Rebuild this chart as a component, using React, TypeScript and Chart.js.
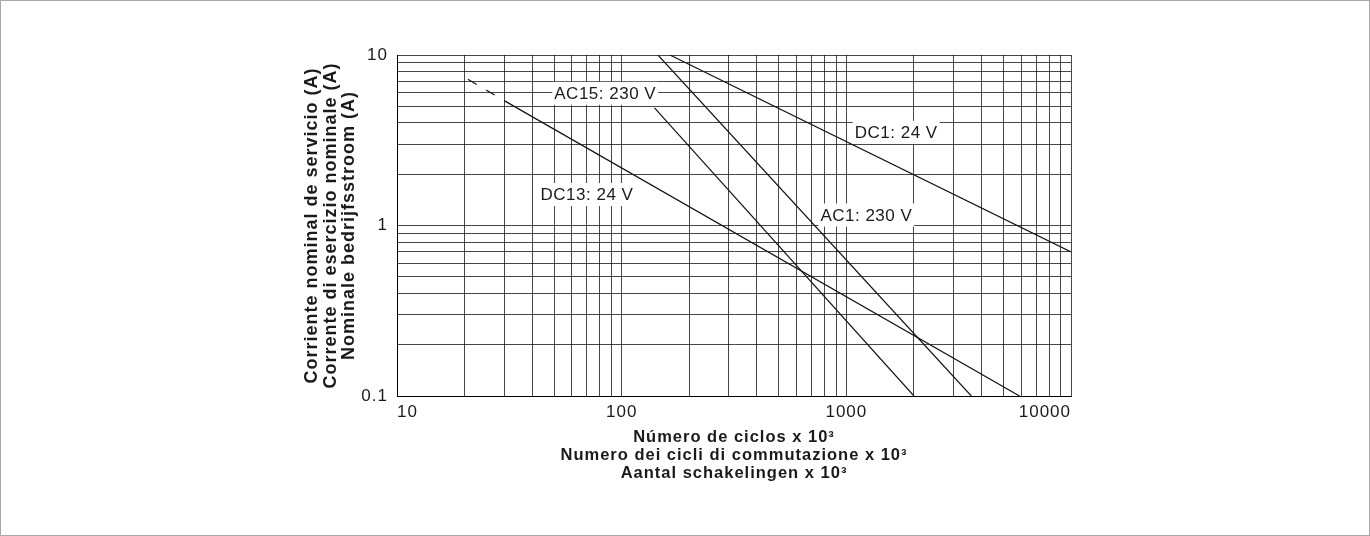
import { useEffect, useRef } from 'react';
import { Chart, registerables } from 'chart.js';

Chart.register(...registerables);

const FONT = '"Liberation Sans", Arial, Helvetica, sans-serif';
const TEXT = '#1a1a1a';
const GRID = 'rgba(0,0,0,0.72)';
const LINE = '#141414';

// Axis ticks (log grid)
const xTickValues = [
  10, 20, 30, 40, 50, 60, 70, 80, 90,
  100, 200, 300, 400, 500, 600, 700, 800, 900,
  1000, 2000, 3000, 4000, 5000, 6000, 7000, 8000, 9000,
  10000,
];
const xLabelValues = [10, 100, 1000, 10000];
const xLabelTexts = ['10', '100', '1000', '10000'];

const yTickValues = [
  0.1, 0.2, 0.3, 0.4, 0.5, 0.6, 0.7, 0.8, 0.9,
  1, 2, 3, 4, 5, 6, 7, 8, 9,
  10,
];
const yLabelValues = [0.1, 1, 10];
const yLabelTexts = ['0.1', '1', '10'];

// Axis titles
const xTitleLines = [
  'Número de ciclos x 10³',
  'Numero dei cicli di commutazione x 10³',
  'Aantal schakelingen x 10³',
];
const yTitleLines = [
  'Corriente nominal de servicio (A)',
  'Corrente di esercizio nominale (A)',
  'Nominale bedrijfsstroom (A)',
];

// Series (switching cycles x10^3 -> rated current A)
const dc13DashedX = [20.7, 30];
const dc13DashedY = [7.2, 5.4];
const dc13X = [30, 5900];
const dc13Y = [5.4, 0.1];
const ac15X = [140, 2000];
const ac15Y = [4.9, 0.1];
const ac1X = [145, 3600];
const ac1Y = [10, 0.1];
const dc1X = [164, 10000];
const dc1Y = [10, 0.7];

// Curve labels (text centre in data coordinates)
const labelTexts = ['AC15: 230 V', 'DC13: 24 V', 'DC1: 24 V', 'AC1: 230 V'];
const labelX = [84.5, 70.1, 1667, 1228];
const labelY = [6, 1.53, 3.54, 1.16];

const toPoints = (xs: number[], ys: number[]) => xs.map((x, i) => ({ x, y: ys[i] }));

const curveLabelPlugin = {
  id: 'curveLabels',
  beforeDraw(chart: any) {
    try {
      chart.ctx.letterSpacing = '1px';
    } catch (e) {
      /* ignore */
    }
  },
  afterDatasetsDraw(chart: any) {
    const { ctx, scales } = chart;
    const xs = scales.x;
    const ys = scales.y;
    ctx.save();
    try {
      ctx.letterSpacing = '0.5px';
    } catch (e) {
      /* ignore */
    }
    ctx.font = `17px ${FONT}`;
    ctx.textAlign = 'left';
    ctx.textBaseline = 'alphabetic';
    labelTexts.forEach((text, i) => {
      const cx = xs.getPixelForValue(labelX[i]);
      const cy = ys.getPixelForValue(labelY[i]);
      const w = ctx.measureText(text).width;
      const left = cx - w / 2;
      ctx.fillStyle = '#ffffff';
      ctx.fillRect(left - 2, cy - 11, w + 4, 23);
      ctx.fillStyle = TEXT;
      ctx.fillText(text, left, cy + 6);
    });
    ctx.restore();
  },
};

export default function App() {
  const canvasRef = useRef<HTMLCanvasElement | null>(null);

  useEffect(() => {
    const canvas = canvasRef.current;
    if (!canvas) return;

    const lineDs = (label: string, xs: number[], ys: number[], dash: number[] = []) => ({
      label,
      data: toPoints(xs, ys),
      borderColor: LINE,
      borderWidth: 1.2,
      borderDash: dash,
      pointRadius: 0,
      pointHoverRadius: 0,
      fill: false,
      tension: 0,
    });

    const chart = new Chart(canvas, {
      type: 'line',
      data: {
        datasets: [
          lineDs('DC13 dashed', dc13DashedX, dc13DashedY, [10, 11]),
          lineDs('DC13: 24 V', dc13X, dc13Y),
          lineDs('AC15: 230 V', ac15X, ac15Y),
          lineDs('AC1: 230 V', ac1X, ac1Y),
          lineDs('DC1: 24 V', dc1X, dc1Y),
        ],
      },
      options: {
        responsive: false,
        animation: false,
        events: [],
        layout: { padding: { left: 295, right: 291, top: 47, bottom: 46 } },
        plugins: {
          legend: { display: false },
          tooltip: { enabled: false },
        },
        scales: {
          x: {
            type: 'logarithmic',
            min: 10,
            max: 10000,
            afterBuildTicks: (s: any) => {
              s.ticks = xTickValues.map((v) => ({ value: v }));
            },
            afterFit: (s: any) => {
              s.height = 86;
            },
            grid: { color: GRID, lineWidth: 1, drawTicks: false },
            border: { color: '#000', width: 1 },
            ticks: {
              autoSkip: false,
              maxRotation: 0,
              minRotation: 0,
              align: 'inner',
              padding: 6,
              color: TEXT,
              font: { family: FONT, size: 17 },
              callback: (value: any) => {
                const i = xLabelValues.indexOf(Number(value));
                return i >= 0 ? xLabelTexts[i] : '';
              },
            },
            title: {
              display: true,
              text: xTitleLines,
              color: TEXT,
              padding: 0,
              font: { family: FONT, size: 16.5, weight: 'bold', lineHeight: '18px' },
            },
          },
          y: {
            type: 'logarithmic',
            min: 0.1,
            max: 10,
            afterBuildTicks: (s: any) => {
              s.ticks = yTickValues.map((v) => ({ value: v }));
            },
            afterFit: (s: any) => {
              s.width = 94;
            },
            grid: { color: GRID, lineWidth: 1, drawTicks: false },
            border: { color: '#000', width: 1 },
            ticks: {
              autoSkip: false,
              padding: 9,
              color: TEXT,
              font: { family: FONT, size: 17 },
              callback: (value: any) => {
                const i = yLabelValues.indexOf(Number(value));
                return i >= 0 ? yLabelTexts[i] : '';
              },
            },
            title: {
              display: true,
              text: yTitleLines,
              color: TEXT,
              padding: 0,
              font: { family: FONT, size: 18, weight: 'bold', lineHeight: '18.5px' },
            },
          },
        },
      } as any,
      plugins: [curveLabelPlugin],
    });

    return () => {
      chart.destroy();
    };
  }, []);

  return (
    <>
      <div
        style={{
          position: 'fixed',
          left: 0,
          top: 0,
          width: 1370,
          height: 536,
          boxSizing: 'border-box',
          border: '1px solid #a8a8a8',
          pointerEvents: 'none',
        }}
      />
      <canvas ref={canvasRef} width={1354} height={520} style={{ display: 'block' }} />
    </>
  );
}
